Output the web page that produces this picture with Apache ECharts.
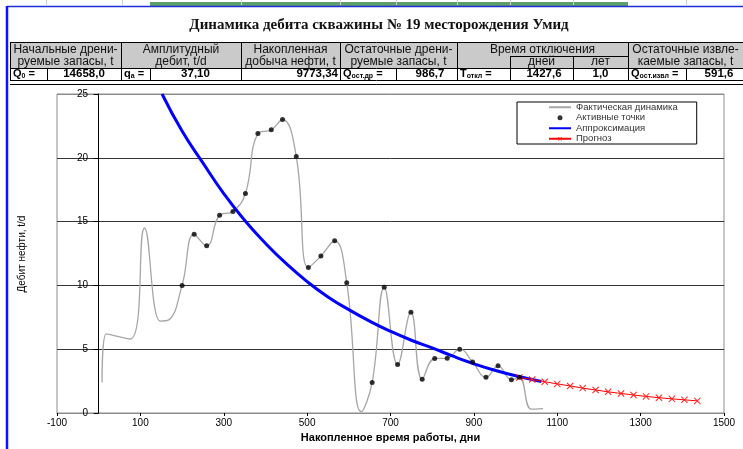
<!DOCTYPE html>
<html>
<head>
<meta charset="utf-8">
<script src="https://cdn.jsdelivr.net/npm/echarts@6/dist/echarts.min.js"></script>
<style>
  html, body { margin: 0; padding: 0; background: #fff; }
  #chart { width: 743px; height: 449px; }
</style>
</head>
<body>
<div id="chart"></div>
<script>
// фактическая динамика (все замеры)
var factX = [8, 18, 76, 110, 148, 168, 200, 229, 259, 290, 322, 352, 382, 414, 441, 474, 503, 533, 566, 595, 630, 656, 685, 717, 749, 776, 806, 836, 866, 897, 929, 958, 990, 1009, 1038, 1066];
var factY = [2.4, 6.2, 5.8, 14.5, 7.2, 7.3, 10.0, 14.0, 13.1, 15.5, 15.8, 17.2, 21.9, 22.2, 23.0, 20.1, 11.4, 12.3, 13.5, 10.2, 0.1, 2.4, 9.85, 3.8, 7.9, 2.65, 4.27, 4.3, 5.0, 4.0, 2.8, 3.7, 2.6, 2.8, 0.3, 0.35];
// активные точки
var activeX = [200, 229, 259, 290, 322, 352, 382, 414, 441, 474, 503, 533, 566, 595, 656, 685, 717, 749, 776, 806, 836, 866, 897, 929, 958, 990, 1009];
var activeY = [10.0, 14.0, 13.1, 15.5, 15.8, 17.2, 21.9, 22.2, 23.0, 20.1, 11.4, 12.3, 13.5, 10.2, 2.4, 9.85, 3.8, 7.9, 2.65, 4.27, 4.3, 5.0, 4.0, 2.8, 3.7, 2.6, 2.8];
// аппроксимация
var approxX = [152, 200, 250, 300, 350, 400, 450, 500, 550, 600, 650, 700, 750, 800, 850, 900, 950, 1000, 1062];
var approxY = [25.0, 22.1, 19.6, 17.2, 15.1, 13.3, 11.7, 10.3, 9.1, 8.1, 7.2, 6.4, 5.7, 5.1, 4.45, 3.86, 3.35, 2.92, 2.47];
// прогноз
var forecastX = [1009, 1040, 1070, 1100, 1131, 1161, 1192, 1222, 1253, 1283, 1313, 1344, 1375, 1405, 1436];
var forecastY = [2.78, 2.62, 2.45, 2.28, 2.12, 1.95, 1.80, 1.66, 1.53, 1.41, 1.30, 1.20, 1.11, 1.03, 0.95];

var xTickLabels = ['-100', '100', '300', '500', '700', '900', '1100', '1300', '1500'];

// таблица над графиком
var headerTop = ['Начальные дрени-', 'Амплитудный', 'Накопленная', 'Остаточные дрени-', 'Время отключения', 'Остаточные извле-'];
var headerBottom = ['руемые запасы, t', 'дебит, t/d', 'добыча нефти, t', 'руемые запасы, t', '', 'каемые запасы, t'];
var subHeaders = ['дней', 'лет'];
var tableLabels = ['Q{s|0} =', 'q{s|a} =', 'Q{s|ост.др} =', 'T{s|откл} =', 'Q{s|ост.извл} ='];
var tableValues = ['14658,0', '37,10', '9773,34', '986,7', '1427,6', '1,0', '591,6'];

function zip(xs, ys) {
    return xs.map(function (x, i) { return [x, ys[i]]; });
}

var SANS = 'Arial, "Liberation Sans", sans-serif';
var SERIF = '"Times New Roman", "Liberation Serif", serif';
var CROSS = 'path://M1,0 L5,4 L9,0 L10,1 L6,5 L10,9 L9,10 L5,6 L1,10 L0,9 L4,5 L0,1 Z';

function ln(x1, y1, x2, y2, color, w) {
    return { type: 'line', silent: true, shape: { x1: x1, y1: y1, x2: x2, y2: y2 },
        style: { stroke: color || '#000', lineWidth: w || 1 } };
}
function txt(x, y, s, opt) {
    opt = opt || {};
    return { type: 'text', silent: true, x: x, y: y, rotation: opt.rot || 0,
        style: { text: s, fontSize: opt.size || 11, fontFamily: opt.family || SANS,
            fontWeight: opt.weight || 'normal', fill: opt.color || '#111',
            align: opt.align || 'center', verticalAlign: 'middle',
            rich: { s: { fontSize: 7, fontWeight: 'bold', fontFamily: SANS, verticalAlign: 'bottom', padding: [5, 0, 0, 0] } } } };
}

/* раскладка таблицы */
var colEdges = [10, 121, 241, 340, 457, 628, 743];
var g = [];
// полоса сверху (фрагмент листа)
g.push({ type: 'rect', silent: true, shape: { x: 150, y: 2, width: 478, height: 4 }, style: { fill: '#5d9e6b' } });
[46, 122, 241, 340, 396, 457, 510, 573, 686].forEach(function (x) { g.push(ln(x + 0.5, 0, x + 0.5, 5, '#cfcfcf')); });
g.push(ln(7, 6.5, 743, 6.5, '#1f2fd8', 1.5));
g.push(ln(7, 6, 7, 449, '#1010ff', 2.5));

g.push(txt(379, 25, 'Динамика дебита скважины № 19 месторождения Умид', { size: 15, family: SERIF, weight: 'bold', color: '#111' }));

g.push({ type: 'rect', silent: true, shape: { x: 10, y: 42, width: 733, height: 26 }, style: { fill: '#cacaca' } });
g.push(ln(10, 42.5, 743, 42.5));
g.push(ln(10, 68.5, 743, 68.5));
g.push(ln(10, 80.5, 743, 80.5));
g.push(ln(10, 84.5, 743, 84.5));
g.push(ln(510, 56.5, 628, 56.5));
colEdges.slice(0, 6).forEach(function (x) { g.push(ln(x + 0.5, 42, x + 0.5, 80)); });
[47, 150, 396, 510, 573, 686].forEach(function (x) { g.push(ln(x + 0.5, 68, x + 0.5, 80)); });
g.push(ln(510.5, 56, 510.5, 68));
g.push(ln(573.5, 56, 573.5, 68));

for (var i = 0; i < headerTop.length; i++) {
    var cx = (colEdges[i] + colEdges[i + 1]) / 2;
    g.push(txt(cx, 49.5, headerTop[i], { size: 12 }));
    if (headerBottom[i]) g.push(txt(cx, 61.5, headerBottom[i], { size: 12 }));
}
g.push(txt(541.5, 62, subHeaders[0], { size: 12 }));
g.push(txt(600.5, 62, subHeaders[1], { size: 12 }));

var B = { size: 11, weight: 'bold', color: '#000', align: 'left' };
[13, 124, 343, 460, 631].forEach(function (x, k) { g.push(txt(x, 74, tableLabels[k], B)); });
var valPos = [[84, 'center'], [195.5, 'center'], [338, 'right'], [430, 'center'], [544, 'center'], [600.5, 'center'], [719, 'center']];
valPos.forEach(function (p, k) {
    g.push(txt(p[0], 74, tableValues[k], { size: 11.5, weight: 'bold', color: '#000', align: p[1] }));
});

g.push(txt(22, 254, 'Дебит нефти, t/d', { size: 10, rot: Math.PI / 2, color: '#000' }));

var noSym = { opacity: 0 };
var chart = echarts.init(document.getElementById('chart'));
chart.setOption({
    animation: false,
    backgroundColor: '#fff',
    grid: { left: 57, right: 19, top: 94, bottom: 36, show: true, borderColor: '#8c8c8c', borderWidth: 1, backgroundColor: '#fff' },
    legend: {
        orient: 'vertical', left: 517, top: 102,
        backgroundColor: '#fff', borderColor: '#000', borderWidth: 1,
        padding: [0, 19, 0, 31], itemGap: 0, itemWidth: 22, itemHeight: 5,
        textStyle: { fontSize: 9.5, lineHeight: 10.5, color: '#333', fontFamily: SANS },
        data: [
            { name: 'Фактическая динамика', itemStyle: noSym },
            { name: 'Активные точки' },
            { name: 'Аппроксимация', itemStyle: noSym },
            { name: 'Прогноз' }
        ]
    },
    xAxis: [
        { type: 'value', min: -100, max: 1500, show: false },
        {
            type: 'value', min: 0, max: 1600, interval: 200, position: 'bottom',
            name: 'Накопленное время работы, дни', nameLocation: 'middle', nameGap: 19,
            nameTextStyle: { fontSize: 11, fontWeight: 'bold', color: '#000', fontFamily: SANS },
            axisLine: { onZero: false, lineStyle: { color: '#8c8c8c' } },
            axisTick: { show: true, length: 3, lineStyle: { color: '#000' } },
            axisLabel: { fontSize: 10, color: '#000', fontFamily: SANS, margin: 5,
                formatter: function (v) { return xTickLabels[Math.round(v / 200)]; } },
            splitLine: { show: false }
        }
    ],
    yAxis: [
        {
            // линия оси на x = 0 (как в первом варианте)
            type: 'value', min: 0, max: 25, interval: 5,
            axisLine: { show: true, onZero: true, onZeroAxisIndex: 0, lineStyle: { color: '#000', width: 1 } },
            axisTick: { show: true, length: 5, lineStyle: { color: '#000' } },
            axisLabel: { show: false },
            splitLine: { show: true, lineStyle: { color: ['#8c8c8c', '#333', '#333', '#333', '#333', '#8c8c8c'], width: 1 } }
        },
        {
            // подписи делений рядом с осью
            type: 'value', min: 0, max: 25, interval: 5, position: 'left',
            axisLine: { show: false, onZero: false },
            axisTick: { show: false },
            axisLabel: { fontSize: 10, color: '#000', fontFamily: SANS, margin: -31 },
            splitLine: { show: false }
        }
    ],
    series: [
        {
            name: 'Фактическая динамика', type: 'line', data: zip(factX, factY),
            smooth: 0.45, symbol: 'none', z: 2,
            lineStyle: { color: '#a6a6a6', width: 1.3 }, itemStyle: { color: '#a6a6a6' }
        },
        {
            name: 'Активные точки', type: 'scatter', data: zip(activeX, activeY),
            symbol: 'circle', symbolSize: 5, z: 6, itemStyle: { color: '#000' }
        },
        {
            name: 'Аппроксимация', type: 'line', data: zip(approxX, approxY),
            smooth: true, symbol: 'none', z: 3,
            lineStyle: { color: '#0000ff', width: 3 }, itemStyle: { color: '#0000ff' }
        },
        {
            name: 'Прогноз', type: 'line', data: zip(forecastX, forecastY),
            symbol: CROSS, symbolSize: 7, showSymbol: true, z: 4,
            lineStyle: { color: '#ff0000', width: 1 }, itemStyle: { color: '#ff2020' }
        }
    ],
    graphic: g
});
</script>
</body>
</html>
